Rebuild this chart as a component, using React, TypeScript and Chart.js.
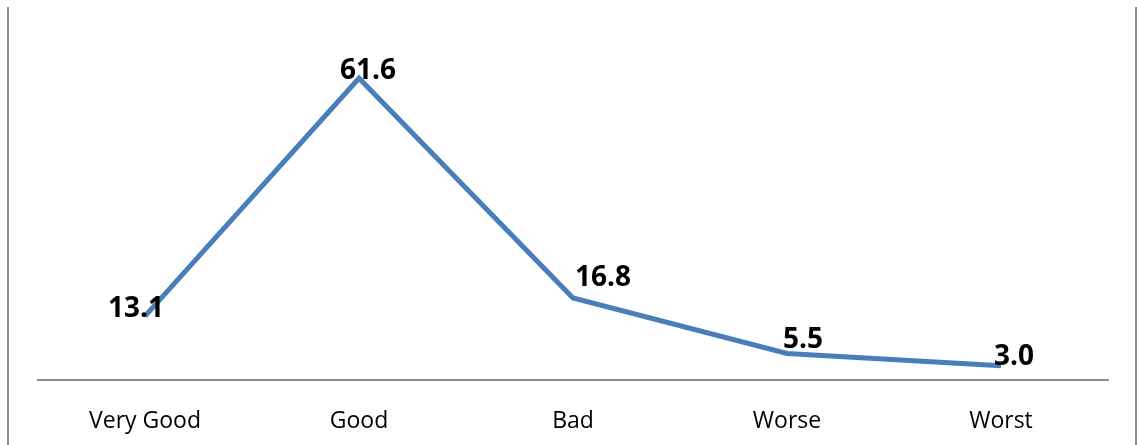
import React, { useEffect, useRef } from "react";
import { Chart, registerables } from "chart.js";

Chart.register(...registerables);

const categories = ["Very Good", "Good", "Bad", "Worse", "Worst"];
const values = [13.1, 61.6, 16.8, 5.5, 3.0];
const valueLabels = ["13.1", "61.6", "16.8", "5.5", "3.0"];

const framePlugin = {
  id: "frame",
  beforeDraw(chart: any) {
    const ctx = chart.ctx;
    ctx.save();
    ctx.strokeStyle = "#8c8c8c";
    ctx.lineWidth = 2;
    ctx.beginPath();
    ctx.moveTo(8, 7);
    ctx.lineTo(8, 445);
    ctx.moveTo(1136, 7);
    ctx.lineTo(1136, 445);
    ctx.stroke();
    ctx.restore();
  },
};

const labelPlugin = {
  id: "valueLabels",
  afterDatasetsDraw(chart: any, _args: any, opts: any) {
    const ctx = chart.ctx;
    const meta = chart.getDatasetMeta(0);
    const offsets = opts.offsets || [];
    ctx.save();
    ctx.font = "bold 28px 'Open Sans'";
    ctx.fillStyle = "#000";
    ctx.textAlign = "center";
    ctx.textBaseline = "middle";
    meta.data.forEach((pt: any, i: number) => {
      const o = offsets[i] || [0, 0];
      ctx.fillText(valueLabels[i], pt.x + o[0], pt.y + o[1]);
    });
    ctx.restore();
  },
};

export default function App() {
  const ref = useRef<HTMLCanvasElement>(null);
  useEffect(() => {
    document.body.style.margin = "0";
    const chart = new Chart(ref.current!, {
      type: "line",
      data: {
        labels: categories,
        datasets: [
          {
            data: values,
            borderColor: "#4a7ebb",
            borderWidth: 5,
            pointRadius: 0,
            tension: 0,
            fill: false,
          },
        ],
      },
      options: {
        animation: false,
        responsive: false,
        maintainAspectRatio: false,
        layout: { padding: { left: 38, right: 29, top: 37, bottom: -17 } },
        plugins: {
          legend: { display: false },
          tooltip: { enabled: false },
          valueLabels: {
            offsets: [
              [-9, -7],
              [9, -7],
              [30, -20],
              [16, -13],
              [13, -9],
            ],
          },
        } as any,
        scales: {
          x: {
            offset: true,
            grid: { display: false, drawTicks: false },
            border: { display: true, color: "#8c8c8c", width: 2 },
            ticks: {
              color: "#000",
              padding: 27,
              font: { family: "'Open Sans'", size: 23 },
            },
          },
          y: {
            display: false,
            min: 0,
            max: 70,
          },
        },
      },
      plugins: [framePlugin, labelPlugin],
    });
    return () => chart.destroy();
  }, []);
  return (
    <div style={{ position: "absolute", left: 0, top: 0, width: 1137, height: 445 }}>
      <canvas ref={ref} width={1137} height={445} />
    </div>
  );
}
